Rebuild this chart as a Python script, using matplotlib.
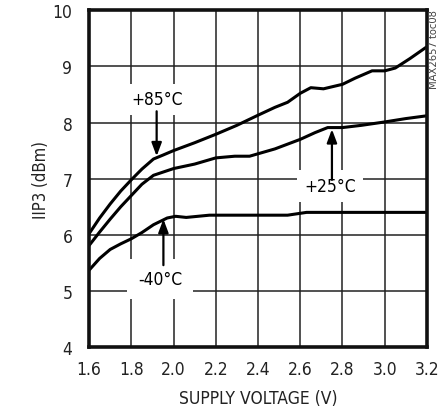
import numpy as np
import matplotlib
matplotlib.use("Agg")
import matplotlib.pyplot as plt

plt.rcParams['font.family'] = ['Liberation Sans Narrow', 'DejaVu Sans']
plt.rcParams['font.stretch'] = 'condensed'

# supply voltage (V) / IIP3 (dBm)
v_85 = [1.60, 1.65, 1.70, 1.75, 1.80, 1.85, 1.905, 1.95, 2.00, 2.10, 2.20, 2.30, 2.40, 2.48, 2.54, 2.60, 2.65, 2.71, 2.80, 2.86, 2.94, 3.00, 3.05, 3.12, 3.20]
iip3_85 = [6.02, 6.30, 6.55, 6.78, 6.98, 7.17, 7.35, 7.42, 7.50, 7.64, 7.79, 7.95, 8.13, 8.27, 8.36, 8.52, 8.62, 8.60, 8.68, 8.79, 8.92, 8.92, 8.97, 9.14, 9.35]

v_25 = [1.60, 1.65, 1.70, 1.75, 1.80, 1.85, 1.905, 2.00, 2.10, 2.20, 2.29, 2.36, 2.48, 2.60, 2.67, 2.73, 2.80, 2.89, 3.00, 3.10, 3.20]
iip3_25 = [5.81, 6.05, 6.28, 6.50, 6.70, 6.90, 7.06, 7.18, 7.26, 7.37, 7.40, 7.40, 7.53, 7.70, 7.82, 7.91, 7.91, 7.95, 8.01, 8.07, 8.12]

v_m40 = [1.60, 1.65, 1.70, 1.75, 1.80, 1.85, 1.905, 1.97, 2.01, 2.06, 2.17, 2.30, 2.54, 2.63, 2.80, 3.00, 3.20]
iip3_m40 = [5.37, 5.58, 5.74, 5.84, 5.93, 6.04, 6.18, 6.30, 6.33, 6.31, 6.35, 6.35, 6.35, 6.40, 6.40, 6.40, 6.40]

x_ticks = [1.6, 1.8, 2.0, 2.2, 2.4, 2.6, 2.8, 3.0, 3.2]
y_ticks = [4, 5, 6, 7, 8, 9, 10]

fig = plt.figure(figsize=(4.42, 4.14), dpi=100)
ax = fig.add_axes([0.2015, 0.159, 0.7645, 0.814])

for xs, ys in [(v_85, iip3_85), (v_25, iip3_25), (v_m40, iip3_m40)]:
    ax.plot(xs, ys, color='black', lw=2.2, solid_capstyle='round', solid_joinstyle='round')

ax.set_xlim(1.6, 3.2)
ax.set_ylim(4, 10)
ax.set_xticks(x_ticks)
ax.set_xticklabels(['%.1f' % t for t in x_ticks])
ax.set_yticks(y_ticks)
ax.grid(True, color='#222222', lw=1.1)
ax.set_axisbelow(True)
ax.tick_params(length=0, labelsize=12.5, colors='#222222')
ax.tick_params(axis='y', pad=12)
ax.tick_params(axis='x', pad=9)
for s in ax.spines.values():
    s.set_linewidth(2.6)
    s.set_color('#111111')

ax.set_xlabel('SUPPLY VOLTAGE (V)', fontsize=12.5, color='#222222', labelpad=8)
ax.set_ylabel('IIP3 (dBm)', fontsize=12, color='#222222', labelpad=2)

box = dict(facecolor='white', edgecolor='none', pad=5)
arr = dict(arrowstyle='-|>,head_length=0.8,head_width=0.3', color='black', lw=1.6, shrinkA=0, shrinkB=0)

ax.text(1.92, 8.41, '+85°C', fontsize=12.5, ha='center', va='center', bbox=box)
ax.annotate('', xy=(1.92, 7.40), xytext=(1.92, 8.20), arrowprops=arr)

ax.text(2.74, 6.87, '+25°C', fontsize=12.5, ha='center', va='center', bbox=box)
ax.annotate('', xy=(2.75, 7.88), xytext=(2.75, 6.98), arrowprops=arr)

ax.text(1.935, 5.21, '-40°C', fontsize=12.5, ha='center', va='center',
        bbox=dict(facecolor='white', edgecolor='none', pad=8))
ax.annotate('', xy=(1.952, 6.28), xytext=(1.952, 5.46), arrowprops=arr)

fig.text(0.982, 0.975, 'MAX2657 toc08', rotation=90, fontsize=8, color='#444444',
         ha='center', va='top')

fig.savefig('out.png', dpi=100)
